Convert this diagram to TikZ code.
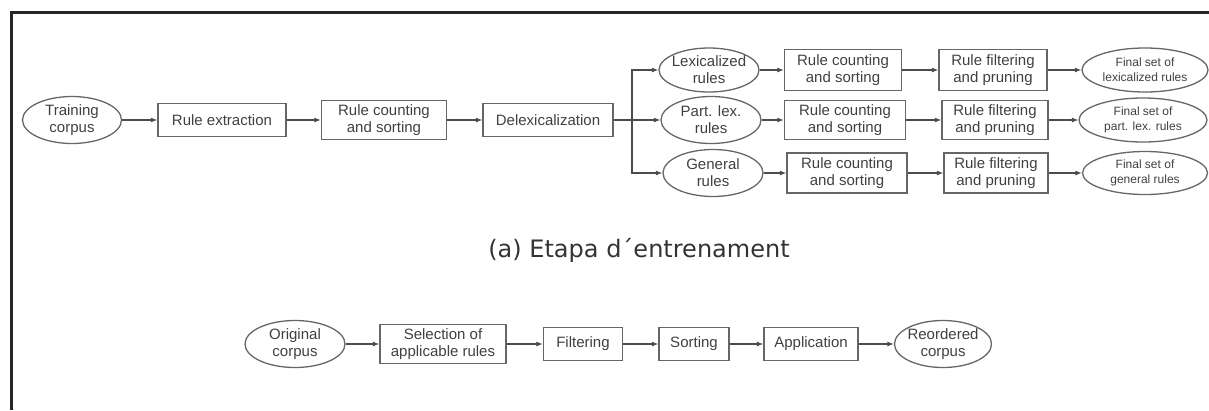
\documentclass[tikz,border=0pt]{standalone}
\usepackage{fontspec}
\setmainfont{Liberation Sans}
\newfontfamily\titlefont{DejaVu Sans}
\usetikzlibrary{shapes.geometric,arrows.meta}

\begin{document}
\begin{tikzpicture}[
      x=1pt, y=-1pt,
      every node/.style={font=\fontsize{15}{17}\selectfont, text=black!75, align=center},
      box/.style={draw=black!60, line width=1.3pt, rectangle, inner sep=0pt, minimum height=33},
      oval/.style={draw=black!60, line width=1.3pt, ellipse, inner xsep=-20pt, inner ysep=0pt,
        minimum width=100, minimum height=47},
      small/.style={font=\fontsize{12}{15}\selectfont},
      wire/.style={draw=black!70, line width=1.1pt},
      conn/.style={wire, -{Latex[length=6.5pt,width=5pt]}}
    ]
    \useasboundingbox (0,0) rectangle (1209,410);
    % frame
    \draw[line width=3pt, black!85] (11,410) -- (11,12) -- (1209,12);

    % training
    \node[oval, minimum width=99] (train) at (72,120) {Training\\corpus};
    \node[box, minimum width=128] (extr) at (222,120) {Rule extraction};
    \node[box, minimum width=125, minimum height=39] (count) at (384,120) {Rule counting\\and sorting};
    \node[box, minimum width=130] (delex) at (548,120) {Delexicalization};
    \coordinate (fork) at (632,120);

    \node[oval, minimum height=44] (lex) at (709,70) {Lexicalized\\rules};
    \node[oval] (part) at (711,120) {Part. lex.\\rules};
    \node[oval] (gen) at (713,173) {General\\rules};

    \node[box, minimum width=117, minimum height=41] (countlex) at (843,70) {Rule counting\\and sorting};
    \node[box, minimum width=121, minimum height=39] (countpart) at (845,120) {Rule counting\\and sorting};
    \node[box, minimum width=120, minimum height=40] (countgen) at (847,173) {Rule counting\\and sorting};

    \node[box, minimum width=108, minimum height=41] (filtlex) at (993,70) {Rule filtering\\and pruning};
    \node[box, minimum width=106, minimum height=39] (filtpart) at (995,120) {Rule filtering\\and pruning};
    \node[box, minimum width=104, minimum height=40] (filtgen) at (996,173) {Rule filtering\\and pruning};

    \node[oval, small, minimum width=126, minimum height=44] (finlex) at (1145,70) {Final set of\\lexicalized rules};
    \node[oval, small, minimum width=128, minimum height=44] (finpart) at (1143,120) {Final set of\\part. lex. rules};
    \node[oval, small, minimum width=125, minimum height=43] (fingen) at (1145,173) {Final set of\\general rules};

    \draw[conn] (train) -- (extr);
    \draw[conn] (extr) -- (count);
    \draw[conn] (count) -- (delex);
    \draw[wire] (delex) -- (fork);
    \draw[conn] (fork) |- (lex);
    \draw[conn] (fork) -- (part);
    \draw[conn] (fork) |- (gen);
    \draw[conn] (lex) -- (countlex);
    \draw[conn] (part) -- (countpart);
    \draw[conn] (gen) -- (countgen);
    \draw[conn] (countlex) -- (filtlex);
    \draw[conn] (countpart) -- (filtpart);
    \draw[conn] (countgen) -- (filtgen);
    \draw[conn] (filtlex) -- (finlex);
    \draw[conn] (filtpart) -- (finpart);
    \draw[conn] (filtgen) -- (fingen);

    \node[font=\titlefont\fontsize{24}{28}\selectfont, text=black!80] (title) at (639,250) {(a) Etapa d´entrenament};

    % application
    \node[oval] (orig) at (295,344) {Original\\corpus};
    \node[box, minimum width=126, minimum height=39] (select) at (443,344) {Selection of\\applicable rules};
    \node[box, minimum width=79] (filter) at (583,344) {Filtering};
    \node[box, minimum width=70] (sort) at (694,344) {Sorting};
    \node[box, minimum width=94] (apply) at (811,344) {Application};
    \node[oval, minimum width=97] (reord) at (943,344) {Reordered\\corpus};

    \draw[conn] (orig) -- (select);
    \draw[conn] (select) -- (filter);
    \draw[conn] (filter) -- (sort);
    \draw[conn] (sort) -- (apply);
    \draw[conn] (apply) -- (reord);
\end{tikzpicture}
\end{document}
